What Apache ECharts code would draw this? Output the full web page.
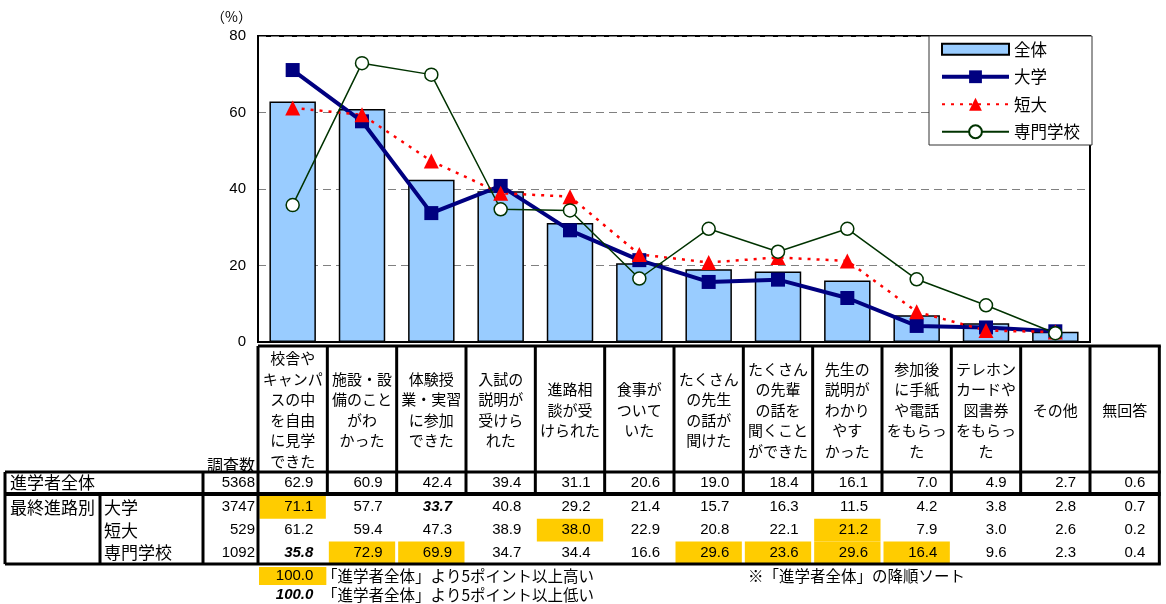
<!DOCTYPE html>
<html>
<head>
<meta charset="utf-8">
<script src="https://cdn.jsdelivr.net/npm/echarts@6/dist/echarts.min.js"></script>
<style>
  html, body { margin: 0; padding: 0; background: #fff; }
  #main { width: 1166px; height: 604px; }
</style>
</head>
<body>
<div id="main"></div>
<script>
// column headers (13 columns; the last one is table only)
const items = [
  "校舎や\nキャンパ\nスの中\nを自由\nに見学\nできた",
  "施設・設\n備のこと\nがわ\nかった",
  "体験授\n業・実習\nに参加\nできた",
  "入試の\n説明が\n受けら\nれた",
  "進路相\n談が受\nけられた",
  "食事が\nついて\nいた",
  "たくさん\nの先生\nの話が\n聞けた",
  "たくさん\nの先輩\nの話を\n聞くこと\nができた",
  "先生の\n説明が\nわかり\nやす\nかった",
  "参加後\nに手紙\nや電話\nをもらっ\nた",
  "テレホン\nカードや\n図書券\nをもらっ\nた",
  "その他",
  "無回答"
];
const totalVals  = [62.9, 60.9, 42.4, 39.4, 31.1, 20.6, 19.0, 18.4, 16.1, 7.0, 4.9, 2.7, 0.6];
const univVals   = [71.1, 57.7, 33.7, 40.8, 29.2, 21.4, 15.7, 16.3, 11.5, 4.2, 3.8, 2.8, 0.7];
const juniorVals = [61.2, 59.4, 47.3, 38.9, 38.0, 22.9, 20.8, 22.1, 21.2, 7.9, 3.0, 2.6, 0.2];
const vocVals    = [35.8, 72.9, 69.9, 34.7, 34.4, 16.6, 29.6, 23.6, 29.6, 16.4, 9.6, 2.3, 0.4];
const groupNames = ["大学", "短大", "専門学校"];
const totalCount = 5368;
const groupCounts = [3747, 529, 1092];
const nPlot = 12; // columns drawn in the chart

const JP = "'Noto Sans CJK JP', sans-serif";
const NUM = "'Liberation Sans', Arial, sans-serif";

const W = 1166;
const gridL = 258, gridR = 76, gridT = 36, gridB = 262;
const colW = (W - gridL - gridR) / nPlot;
const colX = i => gridL + i * colW;
const tableR = colX(items.length);

const headTop = 346, headBot = 472, totBot = 494, subTop = 496, rowH = 22.7;
const subBot = subTop + rowH * 3;

const g = [];
function ln(x1, y1, x2, y2, w) {
  g.push({ type: "line", silent: true, z: 20,
    shape: { x1: x1, y1: y1, x2: x2, y2: y2 },
    style: { stroke: "#000", lineWidth: w } });
}
function txt(x, y, s, font, align) {
  g.push({ type: "text", silent: true, z: 30, x: x, y: y,
    style: { text: s, font: font, fill: "#000", align: align || "left",
      verticalAlign: "middle", lineHeight: 20.5 } });
}
function box(x, y, w, h, c) {
  g.push({ type: "rect", silent: true, z: 10,
    shape: { x: x, y: y, width: w, height: h }, style: { fill: c } });
}

// header row
ln(gridL, headTop, tableR + 1.5, headTop, 3);
for (let i = 0; i <= items.length; i++) ln(colX(i), headTop, colX(i), headBot, 3);
items.forEach((s, i) => txt(colX(i) + colW / 2, 410, s, "15px " + JP, "center"));
txt(255, 465, "調査数", "16px " + JP, "right");

// total row
ln(5, headBot, tableR + 1.5, headBot, 3);
ln(5, totBot, tableR + 1.5, totBot, 4);
[5, 203].forEach(x => ln(x, headBot, x, totBot, 3));
for (let i = 0; i <= items.length; i++) ln(colX(i), headBot, colX(i), totBot, 3);
txt(10, 483, "進学者全体", "17px " + JP);
txt(255, 483, String(totalCount), "15px " + NUM, "right");
totalVals.forEach((v, i) => txt(colX(i + 1) - 14, 483, v.toFixed(1), "15px " + NUM, "right"));

// group rows
ln(5, subBot, tableR + 1.5, subBot, 3);
[5, 100, 203, colX(0), tableR].forEach(x => ln(x, totBot, x, subBot, 3));
txt(10, subTop + rowH / 2, "最終進路別", "17px " + JP);
[univVals, juniorVals, vocVals].forEach((vals, k) => {
  const yc = subTop + rowH * (k + 0.5);
  txt(104, yc, groupNames[k], "17px " + JP);
  txt(255, yc, String(groupCounts[k]), "15px " + NUM, "right");
  vals.forEach((v, i) => {
    const d = v - totalVals[i];
    if (d >= 5) box(colX(i) + 1.5, subTop + rowH * k, colW - 3, rowH, "#FFCC00");
    const f = d <= -5 ? "italic bold 15px " + NUM : "15px " + NUM;
    txt(colX(i + 1) - 14, yc, v.toFixed(1), f, "right");
  });
});

// notes
box(colX(0) + 1, 567, colW - 2, 18, "#FFCC00");
txt(colX(1) - 14, 576, "100.0", "15px " + NUM, "right");
txt(colX(1) - 14, 595, "100.0", "italic bold 15px " + NUM, "right");
txt(322, 576, "「進学者全体」より5ポイント以上高い", "15.5px " + JP);
txt(322, 595, "「進学者全体」より5ポイント以上低い", "15.5px " + JP);
txt(748, 576, "※「進学者全体」の降順ソート", "15.5px " + JP);

const chart = echarts.init(document.getElementById("main"));
chart.setOption({
  animation: false,
  textStyle: { fontFamily: JP },
  grid: { left: gridL, right: gridR, top: gridT, bottom: gridB,
    show: true, borderColor: "#000", borderWidth: 2 },
  legend: {
    orient: "vertical", left: 929, top: 36,
    data: [
      { name: "全体", icon: "path://M0,0H67V11H0Z" },
      { name: "大学", lineStyle: { width: 4 } },
      { name: "短大" },
      { name: "専門学校" }
    ],
    itemWidth: 67, itemHeight: 16, itemGap: 11,
    padding: [5, 12, 5, 11],
    backgroundColor: "#fff", borderColor: "#333", borderWidth: 1,
    textStyle: { fontSize: 16.5, fontFamily: JP, color: "#000", lineHeight: 16 }
  },
  xAxis: {
    type: "category",
    data: items.slice(0, nPlot),
    axisLine: { lineStyle: { color: "#000", width: 2 } },
    axisTick: { inside: true, length: 4, lineStyle: { color: "#000" } },
    axisLabel: { show: false }
  },
  yAxis: {
    type: "value", min: 0, max: 80, interval: 20,
    name: "（%）", nameLocation: "end", nameGap: 12,
    nameTextStyle: { fontSize: 14, fontFamily: JP, color: "#000", align: "right", padding: [0, 6, 0, 0] },
    axisLine: { show: true, lineStyle: { color: "#000", width: 2 } },
    axisTick: { show: false },
    axisLabel: { fontSize: 15, fontFamily: NUM, color: "#000", margin: 12 },
    splitLine: { lineStyle: { color: "#808080", type: [8, 5], width: 1 } }
  },
  series: [
    { name: "全体", type: "bar", data: totalVals.slice(0, nPlot), barCategoryGap: "33%",
      itemStyle: { color: "#99CCFF", borderColor: "#000", borderWidth: 1.5 } },
    { name: "大学", type: "line", data: univVals.slice(0, nPlot),
      symbol: "rect", symbolSize: 14,
      lineStyle: { color: "#000080", width: 4 },
      itemStyle: { color: "#000080" } },
    { name: "短大", type: "line", data: juniorVals.slice(0, nPlot),
      symbol: "triangle", symbolSize: 15,
      lineStyle: { color: "#FF0000", width: 2.5, type: [3, 6] },
      itemStyle: { color: "#FF0000" } },
    { name: "専門学校", type: "line", data: vocVals.slice(0, nPlot),
      symbol: "circle", symbolSize: 13,
      lineStyle: { color: "#003300", width: 1.5 },
      itemStyle: { color: "#fff", borderColor: "#003300", borderWidth: 1.5 } }
  ],
  graphic: g
});
</script>
</body>
</html>
